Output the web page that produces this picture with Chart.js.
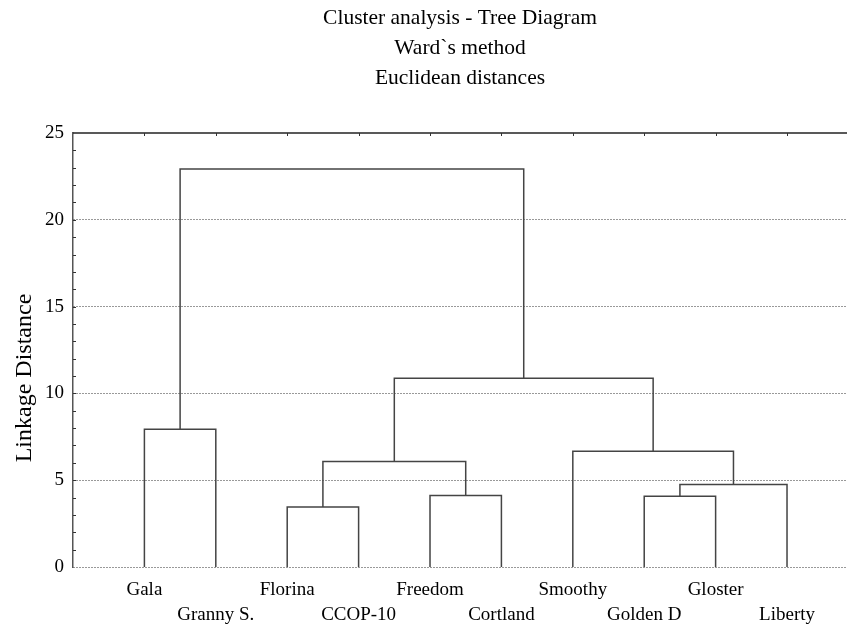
<!DOCTYPE html>
<html>
<head>
<meta charset="utf-8">
<title>Cluster analysis - Tree Diagram</title>
<script src="https://cdn.jsdelivr.net/npm/chart.js@4.4.1/dist/chart.umd.min.js"></script>
<style>
  html, body { margin: 0; padding: 0; background: #fff; overflow: hidden; }
  #wrap { width: 847px; height: 624px; }
</style>
</head>
<body>
<div id="wrap"><canvas id="tree"></canvas></div>
<script>
// leaves in tree order (left to right)
const leafLabels = ['Gala', 'Granny S.', 'Florina', 'CCOP-10', 'Freedom', 'Cortland', 'Smoothy', 'Golden D', 'Gloster', 'Liberty'];

// merges: node ids 0-9 are leaves, merge k gets id 10 + k
const mergeLeft   = [0, 2, 4, 11, 7, 14, 6, 13, 10];
const mergeRight  = [1, 3, 5, 12, 8, 9, 15, 16, 17];
const mergeHeight = [7.93, 3.46, 4.12, 6.08, 4.08, 4.75, 6.67, 10.87, 22.93];

const yTicks = [0, 5, 10, 15, 20, 25];
const titleLines = ['Cluster analysis - Tree Diagram', 'Ward`s method', 'Euclidean distances'];
const yTitle = 'Linkage Distance';

const SERIF = '"Liberation Serif", "Times New Roman", serif';

// node positions: leaves sit at 1..n, merges at the middle of their children
const nodeX = leafLabels.map((_, i) => i + 1);
const nodeY = leafLabels.map(() => 0);
mergeLeft.forEach((l, k) => {
  nodeX.push((nodeX[l] + nodeX[mergeRight[k]]) / 2);
  nodeY.push(mergeHeight[k]);
});

const links = mergeLeft.map((l, k) => {
  const r = mergeRight[k];
  return {
    data: [
      { x: nodeX[l], y: nodeY[l] },
      { x: nodeX[l], y: mergeHeight[k] },
      { x: nodeX[r], y: mergeHeight[k] },
      { x: nodeX[r], y: nodeY[r] }
    ],
    showLine: true,
    borderColor: '#444',
    borderWidth: 1.5,
    pointRadius: 0,
    fill: false
  };
});

// top frame line, inner tick marks and rotated axis title
const frame = {
  id: 'frame',
  afterDraw(chart) {
    const { ctx, chartArea: a, scales } = chart;
    ctx.save();
    ctx.strokeStyle = '#222';
    ctx.lineWidth = 1.5;
    ctx.beginPath();
    ctx.moveTo(a.left, a.top);
    ctx.lineTo(a.right, a.top);
    ctx.stroke();

    ctx.lineWidth = 1;
    ctx.strokeStyle = '#333';
    ctx.beginPath();
    for (let v = 1; v < 25; v++) {
      const y = Math.round(scales.y.getPixelForValue(v)) + 0.5;
      ctx.moveTo(a.left, y);
      ctx.lineTo(a.left + 3, y);
    }
    nodeX.slice(0, leafLabels.length).forEach(v => {
      const x = Math.round(scales.x.getPixelForValue(v)) + 0.5;
      ctx.moveTo(x, a.top);
      ctx.lineTo(x, a.top + 3);
    });
    ctx.stroke();

    ctx.fillStyle = '#000';
    ctx.font = '24px ' + SERIF;
    ctx.textAlign = 'center';
    ctx.textBaseline = 'middle';
    ctx.translate(25, 378);
    ctx.rotate(-Math.PI / 2);
    ctx.fillText(yTitle, 0, 0);
    ctx.restore();
  }
};

new Chart(document.getElementById('tree'), {
  type: 'scatter',
  data: { datasets: links },
  options: {
    responsive: true,
    maintainAspectRatio: false,
    animation: false,
    events: [],
    layout: { padding: 0 },
    plugins: {
      legend: { display: false },
      tooltip: { enabled: false },
      title: {
        display: true,
        fullSize: false,
        text: titleLines,
        color: '#000',
        font: { family: SERIF, size: 21.5, weight: 'normal', lineHeight: 1.38 },
        padding: { top: 4, bottom: 40 }
      }
    },
    scales: {
      x: {
        type: 'linear',
        min: 0,
        max: 10.84,
        afterFit(scale) { scale.height = 57; },
        afterBuildTicks(scale) {
          scale.ticks = leafLabels.map((_, i) => ({ value: i + 1 }));
        },
        ticks: {
          color: '#000',
          font: { family: SERIF, size: 19, lineHeight: 1.3 },
          padding: 11,
          maxRotation: 0,
          autoSkip: false,
          callback(value, i) {
            return i % 2 === 0 ? [leafLabels[i]] : ['', leafLabels[i]];
          }
        },
        grid: { display: false, drawTicks: false },
        border: { display: false }
      },
      y: {
        min: 0,
        max: 25,
        afterFit(scale) { scale.width = 73; },
        afterBuildTicks(scale) {
          scale.ticks = yTicks.map(v => ({ value: v }));
        },
        ticks: {
          color: '#000',
          font: { family: SERIF, size: 19 },
          padding: 9
        },
        grid: {
          drawTicks: false,
          color: c => (c.tick && c.tick.value === 25 ? 'rgba(0,0,0,0)' : '#333'),
          lineWidth: 1
        },
        border: { display: true, color: '#555', width: 1.5, dash: [1, 2] }
      }
    }
  },
  plugins: [frame]
});
</script>
</body>
</html>
